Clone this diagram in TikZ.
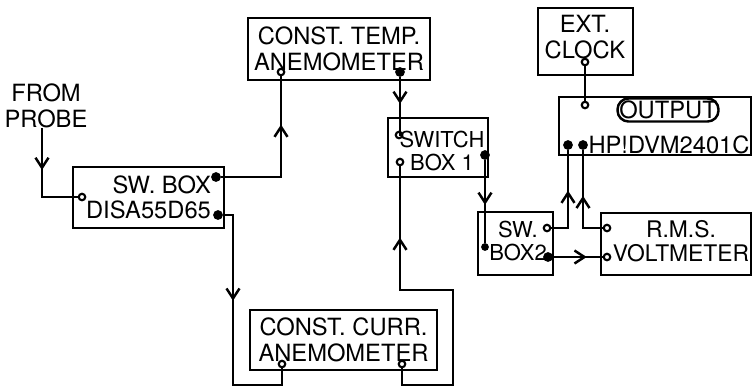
\documentclass[tikz,border=0pt]{standalone}
\usepackage{fontspec}
\setmainfont{TeX Gyre Heros}
\usetikzlibrary{arrows.meta, decorations.markings}

\begin{document}
\begin{tikzpicture}[x=0.02cm, y=-0.02cm,
  box/.style={rectangle, draw, line width=1.4pt, inner sep=1pt, align=center, font=\fontsize{13.5}{14.5}\selectfont},
  lab/.style={inner sep=0pt, align=center, font=\fontsize{13.5}{14.5}\selectfont},
  small/.style={font=\fontsize{12.5}{13.5}\selectfont},
  term/.style={circle, draw, fill=white, line width=1.2pt, minimum size=0.13cm, inner sep=0pt},
  jack/.style={circle, draw, fill=black, line width=1.2pt, minimum size=0.15cm, inner sep=0pt},
  wire/.style={line width=1.6pt},
  flow/.style={wire, postaction={decorate}, decoration={markings, mark=at position #1 with {\arrow{Straight Barb[length=2mm, width=2.6mm, line width=1.4pt]}}}},
  flow/.default=0.5
]
\useasboundingbox (0,0) rectangle (753,387);
% boxes
\node[box, align=right, minimum width=3.02cm, minimum height=1.22cm] (swbox) at (148.5,197.5) {SW. BOX\\DISA55D65};
\node[box, minimum width=3.64cm, minimum height=1.24cm] (cta) at (339,49) {CONST. TEMP.\\ANEMOMETER};
\node[box, minimum width=2cm, minimum height=1.18cm] (swone) at (438,147.5) {};
\node[box, minimum width=3.74cm, minimum height=1.2cm] (cca) at (343.5,340) {CONST. CURR.\\ANEMOMETER};
\node[box, minimum width=1.9cm, minimum height=1.34cm] (clock) at (585.5,41.5) {};
\node[box, minimum width=3.84cm, minimum height=1.16cm] (dvm) at (655,126) {};
\node[box, minimum width=1.5cm, minimum height=1.26cm] (swtwo) at (515.5,243.5) {};
\node[box, minimum width=3cm, minimum height=1.24cm] (rms) at (676,244) {};
% labels
\node[lab, small] (swonelab) at (442,151) {SWITCH\\BOX 1};
\node[lab] (clocklab) at (585,37) {EXT.\\CLOCK};
\node[lab, small] (swtwolab) at (518,241) {SW.\\BOX2};
\node[lab, font=\fontsize{13}{14}\selectfont] (rmslab) at (681,241) {R.M.S.\\VOLTMETER};
\node[lab, draw, line width=1.4pt, rounded corners=0.22cm, minimum width=2.02cm, minimum height=0.46cm] (outlab) at (668,110) {OUTPUT};
\node[lab] (dvmlab) at (669,145) {HP!DVM2401C};
\node[lab] (probe) at (46,106) {FROM\\PROBE};
% terminals
\node[term] (swin) at (82,197) {};
\node[jack] (swouta) at (216,177) {};
\node[jack] (swoutb) at (218,215) {};
\node[term] (ctain) at (281,72) {};
\node[jack] (ctaout) at (400,72) {};
\node[term] (s1ina) at (399,135) {};
\node[term] (s1inb) at (400,162) {};
\node[jack] (s1out) at (485,155) {};
\node[term] (ccain) at (282,364) {};
\node[term] (ccaout) at (402,364) {};
\node[term] (clkout) at (585,62) {};
\node[term] (dvmclk) at (585,105) {};
\node[jack] (dvmina) at (568,145) {};
\node[jack] (dvminb) at (583,145) {};
\node[jack, minimum size=0.11cm] (sw2in) at (485,247) {};
\node[term] (sw2outa) at (547,228) {};
\node[jack] (sw2outb) at (548,257) {};
\node[term] (rmsina) at (607,228) {};
\node[term] (rmsinb) at (607,257) {};
\coordinate (bendA) at (233,385);
\coordinate (bendB) at (453,385);
\coordinate (bendC) at (400,290);
% wiring
\draw[flow=0.4] ([xshift=-0.08cm]probe.south) |- (swin);
\draw[flow=0.7] (swouta) -| (ctain);
\draw[flow=0.44] (ctaout) |- (s1ina);
\draw[flow=0.39] (swoutb) -| (bendA) -| (ccain);
\draw[flow=0.79] (ccaout) |- (bendB) |- (bendC) -- (s1inb);
\draw[flow=0.54] (s1out) -- (sw2in);
\draw[flow=0.57] (sw2outa) -| (dvmina);
\draw[flow=0.53] (rmsina) -| (dvminb);
\draw[flow=0.68] (sw2outb) -- (rmsinb);
\draw[wire] (clkout) -- (dvmclk);
\end{tikzpicture}
\end{document}
